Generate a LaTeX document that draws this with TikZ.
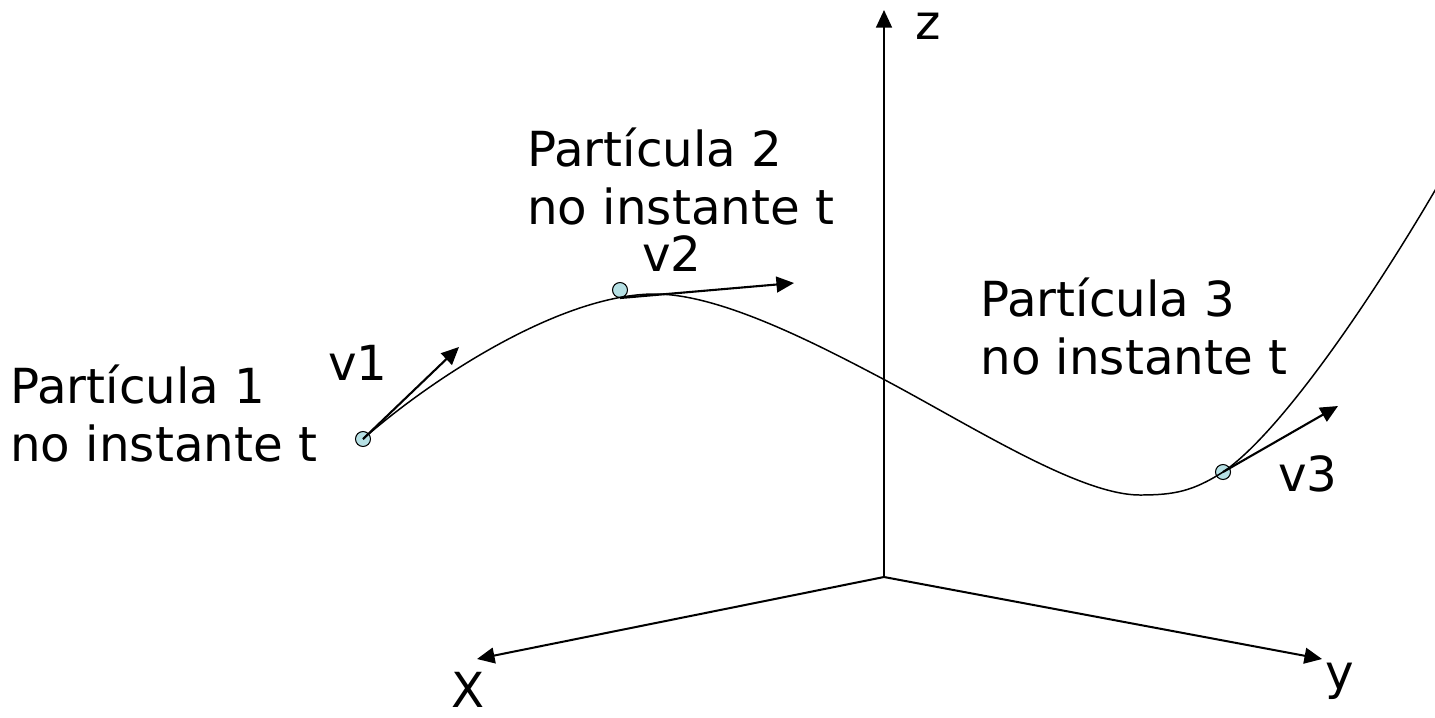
\documentclass[tikz,border=0pt]{standalone}
\usepackage{fontspec}
\setmainfont{DejaVu Sans}
\usetikzlibrary{arrows.meta, positioning}
\definecolor{partcyan}{RGB}{182,224,228}

\begin{document}
\begin{tikzpicture}[
    x=0.02cm, y=-0.02cm,
    every node/.style={font=\fontsize{27.5}{33}\selectfont, inner sep=0pt},
    axis/.style={-{Triangle[length=10pt, width=9pt]}, line width=1.15pt},
    vel/.style={-{Triangle[length=10pt, width=9pt]}, line width=1.2pt},
    traj/.style={line width=0.85pt},
    particle/.style={circle, draw=black, line width=0.6pt, fill=partcyan, minimum size=0.3cm},
    caption/.style={align=left, anchor=west}
]
\useasboundingbox (0,0) rectangle (1435,717);

% ============== EIXOS ==============
\coordinate (o) at (884,577);
\coordinate (ztip) at (884,10);
\coordinate (xtip) at (477,659);
\coordinate (ytip) at (1322,659);
\draw[axis] (o) -- (ztip);
\draw[axis] (o) -- (xtip);
\draw[axis] (o) -- (ytip);
\node (zlab) at (928,26) {z};
\node (xlab) at (468,690) {X};
\node (ylab) at (1340,681) {y};

% ============== PARTICULAS ==============
\node[particle] (p1) at (363,439) {};
\node[particle] (p2) at (620,290) {};
\node[particle] (p3) at (1223,472) {};

% ============== TRAJETORIA ==============
\coordinate (top) at (655,294);
\coordinate (infl) at (885,380);
\coordinate (bottom) at (1140,495);
\coordinate (cend) at (1437,187);
\draw[traj] (p1.center) .. controls (430,380) and (560,294) .. (top)
    .. controls (720,294) and (815,343) .. (infl)
    .. controls (975,428) and (1080,495) .. (bottom)
    .. controls (1175,495) and (1193,491) .. (p3.center)
    .. controls (1283,431) and (1377,290) .. (cend);

% ============== VELOCIDADES ==============
\coordinate (v1tip) at (459,347);
\coordinate (v2tip) at (794,283);
\coordinate (v3tip) at (1338,406);
\draw[vel] (p1.center) -- (v1tip);
\draw[vel] (p2.south) -- (v2tip);
\draw[vel] (p3.center) -- (v3tip);
\node (v1lab) at (358,363) {v1};
\node (v2lab) at (672,254) {v2};
\node (v3lab) at (1308,474) {v3};

% ============== TEXTOS ==============
\node[caption] (t1) at (10,414) {Partícula 1\\no instante t};
\node[caption] (t2) at (527,177) {Partícula 2\\no instante t};
\node[caption] (t3) at (980,327) {Partícula 3\\no instante t};
\end{tikzpicture}
\end{document}
